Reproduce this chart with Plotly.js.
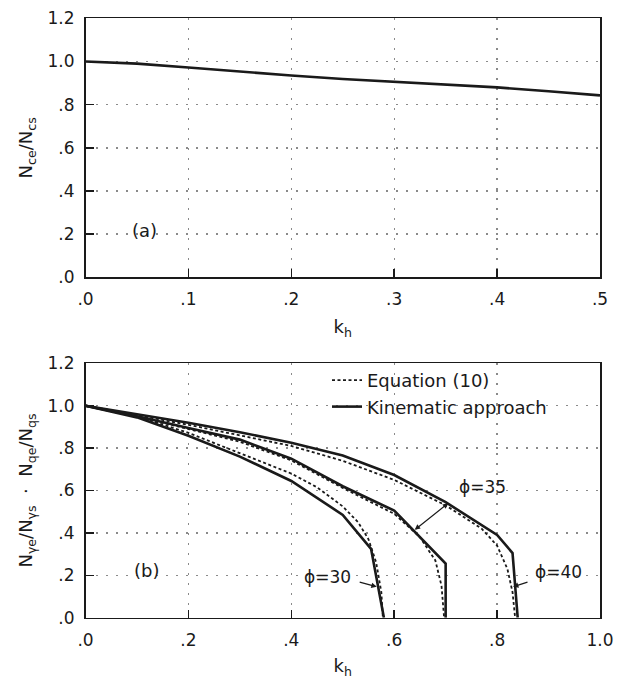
<!DOCTYPE html>
<html>
<head>
<meta charset="utf-8">
<script src="https://cdn.plot.ly/plotly-3.0.1.min.js"></script>
<style>
html,body{margin:0;padding:0;background:#fff;}
#chart{width:618px;height:679px;}
</style>
</head>
<body>
<div id="chart"></div>
<script>
// ---- Panel (a): Nce/Ncs vs kh ----
const khA = [0, 0.05, 0.1, 0.15, 0.2, 0.25, 0.3, 0.35, 0.4, 0.45, 0.5];
const ncRatio = [1.0, 0.99, 0.972, 0.953, 0.935, 0.919, 0.905, 0.893, 0.88, 0.862, 0.843];

// ---- Panel (b): kinematic approach (solid) ----
const khKin30 = [0, 0.1, 0.2, 0.3, 0.4, 0.5, 0.555, 0.58];
const kin30   = [1.0, 0.945, 0.858, 0.76, 0.645, 0.485, 0.325, 0.0];
const khKin35 = [0, 0.1, 0.2, 0.3, 0.4, 0.5, 0.6, 0.7, 0.7];
const kin35   = [1.0, 0.95, 0.895, 0.84, 0.75, 0.62, 0.505, 0.255, 0.0];
const khKin40 = [0, 0.1, 0.2, 0.3, 0.4, 0.5, 0.6, 0.7, 0.8, 0.83, 0.84];
const kin40   = [1.0, 0.96, 0.92, 0.875, 0.825, 0.765, 0.673, 0.545, 0.39, 0.305, 0.0];

// ---- Panel (b): Equation (10) (dotted) ----
const khEq30 = [0, 0.1, 0.2, 0.3, 0.4, 0.45, 0.5, 0.53, 0.55, 0.565, 0.575, 0.578];
const eq30   = [1.0, 0.95, 0.872, 0.775, 0.68, 0.615, 0.525, 0.45, 0.37, 0.26, 0.12, 0.0];
const khEq35 = [0, 0.1, 0.2, 0.3, 0.4, 0.5, 0.6, 0.65, 0.68, 0.692, 0.697];
const eq35   = [1.0, 0.948, 0.89, 0.83, 0.742, 0.612, 0.49, 0.38, 0.27, 0.15, 0.0];
const khEq40 = [0, 0.1, 0.2, 0.3, 0.4, 0.5, 0.6, 0.7, 0.77, 0.8, 0.82, 0.83, 0.835];
const eq40   = [1.0, 0.955, 0.91, 0.86, 0.81, 0.74, 0.65, 0.53, 0.42, 0.34, 0.23, 0.12, 0.0];

// ---- Tick labels ----
const yTickVals = [0, 0.2, 0.4, 0.6, 0.8, 1.0, 1.2];
const yTickText = ['.0', '.2', '.4', '.6', '.8', '1.0', '1.2'];
const xTickValsA = [0, 0.1, 0.2, 0.3, 0.4, 0.5];
const xTickTextA = ['.0', '.1', '.2', '.3', '.4', '.5'];
const xTickValsB = [0, 0.2, 0.4, 0.6, 0.8, 1.0];
const xTickTextB = ['.0', '.2', '.4', '.6', '.8', '1.0'];

const legendNames = ['Equation (10)', 'Kinematic approach'];

const ink = '#1a1a1a';
const solid = {color: ink, width: 2.6};
const dotted = {color: ink, width: 1.8, dash: '3px,2.5px'};

const traces = [
  {x: khA, y: ncRatio, xaxis: 'x', yaxis: 'y', mode: 'lines', line: solid, showlegend: false},
  {x: khEq30, y: eq30, xaxis: 'x2', yaxis: 'y2', mode: 'lines', line: dotted, name: legendNames[0], showlegend: true},
  {x: khKin30, y: kin30, xaxis: 'x2', yaxis: 'y2', mode: 'lines', line: solid, name: legendNames[1], showlegend: true},
  {x: khEq35, y: eq35, xaxis: 'x2', yaxis: 'y2', mode: 'lines', line: dotted, showlegend: false},
  {x: khKin35, y: kin35, xaxis: 'x2', yaxis: 'y2', mode: 'lines', line: solid, showlegend: false},
  {x: khEq40, y: eq40, xaxis: 'x2', yaxis: 'y2', mode: 'lines', line: dotted, showlegend: false},
  {x: khKin40, y: kin40, xaxis: 'x2', yaxis: 'y2', mode: 'lines', line: solid, showlegend: false}
];

const W = 618, H = 679;
const fontFam = 'DejaVu Sans, sans-serif';
const tickFont = {family: fontFam, size: 17, color: ink};
const titleFont = {family: fontFam, size: 18, color: ink};

function axisBase() {
  return {
    showline: true, linecolor: ink, linewidth: 1.6, mirror: true,
    ticks: 'inside', ticklen: 8, tickwidth: 1.5, tickcolor: ink,
    showgrid: true, gridcolor: '#8a8a8a', gridwidth: 1.4, griddash: '2px,8px',
    zeroline: false, tickfont: tickFont, ticklabelstandoff: 6,
    fixedrange: true
  };
}

const xDom = [85.5 / W, 600 / W];
const layout = {
  width: W, height: H,
  margin: {l: 0, r: 0, t: 0, b: 0},
  paper_bgcolor: '#fff', plot_bgcolor: '#fff',
  font: {family: fontFam, color: ink},
  showlegend: true,
  legend: {
    x: 327 / W, y: 1 - 362 / H, xanchor: 'left', yanchor: 'top',
    bgcolor: 'rgba(0,0,0,0)', borderwidth: 0,
    font: {family: fontFam, size: 18, color: ink},
    tracegroupgap: 0
  },
  xaxis: Object.assign(axisBase(), {
    domain: xDom, anchor: 'y', range: [0, 0.5],
    tickvals: xTickValsA, ticktext: xTickTextA,
    title: {text: 'k<sub>h</sub>', font: titleFont, standoff: 12}
  }),
  yaxis: Object.assign(axisBase(), {
    domain: [1 - 277.3 / H, 1 - 18.3 / H], anchor: 'x', range: [0, 1.2],
    tickvals: yTickVals, ticktext: yTickText,
    title: {text: 'N<sub>ce</sub>/N<sub>cs</sub>', font: titleFont, standoff: 10}
  }),
  xaxis2: Object.assign(axisBase(), {
    domain: xDom, anchor: 'y2', range: [0, 1.0],
    tickvals: xTickValsB, ticktext: xTickTextB,
    title: {text: 'k<sub>h</sub>', font: titleFont, standoff: 14}
  }),
  yaxis2: Object.assign(axisBase(), {
    domain: [1 - 617.7 / H, 1 - 363.3 / H], anchor: 'x2', range: [0, 1.2],
    tickvals: yTickVals, ticktext: yTickText,
    title: {text: 'N<sub>γe</sub>/N<sub>γs</sub>  ·  N<sub>qe</sub>/N<sub>qs</sub>', font: titleFont, standoff: 10}
  }),
  annotations: [
    {xref: 'x', yref: 'y', x: 0.057, y: 0.219, text: '(a)', showarrow: false, font: {family: fontFam, size: 18, color: ink}},
    {xref: 'x2', yref: 'y2', x: 0.118, y: 0.225, text: '(b)', showarrow: false, font: {family: fontFam, size: 18, color: ink}},
    {xref: 'x2', yref: 'y2', x: 0.771, y: 0.618, text: 'ϕ=35', showarrow: false, font: {family: fontFam, size: 17, color: ink}},
    {xref: 'x2', yref: 'y2', x: 0.920, y: 0.214, text: 'ϕ=40', showarrow: false, font: {family: fontFam, size: 17, color: ink}},
    {xref: 'x2', yref: 'y2', x: 0.471, y: 0.193, text: 'ϕ=30', showarrow: false, font: {family: fontFam, size: 17, color: ink}},
    {xref: 'x2', yref: 'y2', axref: 'x2', ayref: 'y2', x: 0.705, y: 0.54, ax: 0.637, ay: 0.409, text: '',
     showarrow: true, arrowhead: 2, arrowside: 'end+start', arrowsize: 0.9, arrowwidth: 1.2, arrowcolor: ink},
    {xref: 'x2', yref: 'y2', axref: 'x2', ayref: 'y2', x: 0.831, y: 0.146, ax: 0.862, ay: 0.17, text: '',
     showarrow: true, arrowhead: 2, arrowsize: 0.9, arrowwidth: 1.2, arrowcolor: ink},
    {xref: 'x2', yref: 'y2', axref: 'x2', ayref: 'y2', x: 0.566, y: 0.146, ax: 0.53, ay: 0.17, text: '',
     showarrow: true, arrowhead: 2, arrowsize: 0.9, arrowwidth: 1.2, arrowcolor: ink}
  ]
};

Plotly.newPlot('chart', traces, layout, {displayModeBar: false, staticPlot: true});
</script>
</body>
</html>
